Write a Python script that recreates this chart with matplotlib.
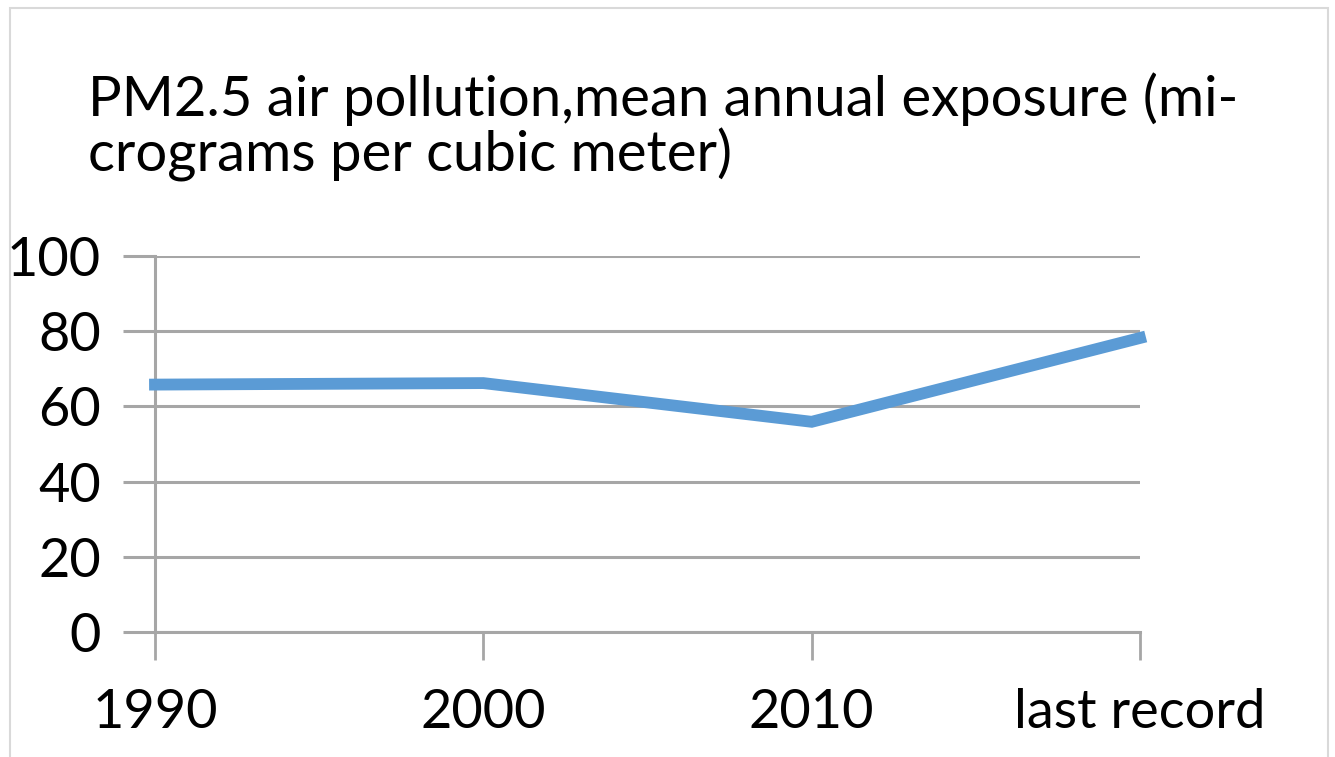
import matplotlib.pyplot as plt
from matplotlib.patches import Rectangle

categories = ["1990", "2000", "2010", "last record"]
exposure = [65.8, 66.2, 55.9, 78.2]
y_ticks = [0, 20, 40, 60, 80, 100]
title = "PM2.5 air pollution,mean annual exposure (mi-\ncrograms per cubic meter)"

plt.rcParams["font.family"] = ["Lato", "DejaVu Sans"]

W, H = 1335, 757
fig = plt.figure(figsize=(W / 100, H / 100), dpi=100)
fig.patch.set_facecolor("white")

# light frame around the chart area (open at the bottom)
fig.patches.append(Rectangle((10 / W, -0.05), 1318 / W, 1.05 - 8 / H, transform=fig.transFigure,
                             fill=False, edgecolor="#d9d9d9", linewidth=1.5))

ax = fig.add_axes([155 / W, 1 - 632 / H, 985 / W, 376 / H])
x = list(range(len(categories)))
ax.plot(x, exposure, color="#5b9bd5", linewidth=8.5, solid_joinstyle="miter", zorder=3, clip_on=False)

ax.set_xlim(0, len(categories) - 1)
ax.set_ylim(0, 100)
ax.set_yticks(y_ticks)
ax.set_xticks(x)
ax.set_xticklabels(categories)

grid_c = "#a6a6a6"
ax.yaxis.grid(True, color=grid_c, linewidth=2.2)
ax.set_axisbelow(True)
for s in ["top", "right"]:
    ax.spines[s].set_visible(False)
for s in ["left", "bottom"]:
    ax.spines[s].set_color(grid_c)
    ax.spines[s].set_linewidth(2.2)

ax.tick_params(axis="y", direction="out", length=23, width=2.2, color=grid_c,
               labelsize=39, pad=16)
ax.tick_params(axis="x", direction="out", length=20, width=2.0, color=grid_c,
               labelsize=39, pad=20)

fig.text(88 / W, 1 - 72 / H, title, fontsize=40.5, ha="left", va="top", linespacing=1.05)

fig.savefig("out.png", dpi=100)
